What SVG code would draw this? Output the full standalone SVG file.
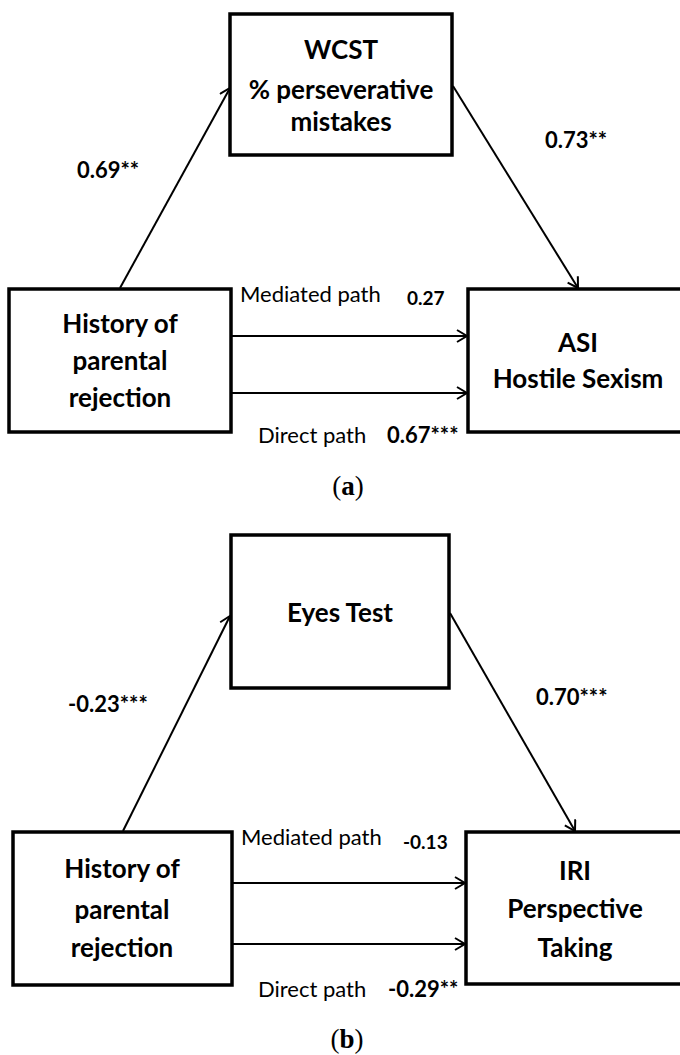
<svg xmlns="http://www.w3.org/2000/svg" width="680" height="1055" viewBox="0 0 680 1055">
<style>
.box{fill:#fff;stroke:#000;stroke-width:3.5}
.ln{fill:none;stroke:#000;stroke-width:2}
.nt{font-family:Lato,"Liberation Sans",sans-serif;font-weight:bold;font-size:26px;fill:#000;text-anchor:middle}
.co{font-family:Lato,"Liberation Sans",sans-serif;font-weight:bold;font-size:22px;fill:#000}
.sm{font-size:19px}
.pl{font-family:Lato,"Liberation Sans",sans-serif;font-size:22px;fill:#000}
.cap{font-family:"Liberation Serif",serif;font-size:27px;fill:#000;text-anchor:middle}
</style>
<defs>
<marker id="arr" markerUnits="userSpaceOnUse" markerWidth="14" markerHeight="16" refX="11" refY="7" orient="auto">
<path d="M1,1 L11,7 L1,13" fill="none" stroke="#000" stroke-width="2"/>
</marker>
</defs>
<rect width="680" height="1055" fill="#fff"/>

<g id="connectors">
<line class="ln" x1="120" y1="288" x2="230" y2="88" marker-end="url(#arr)"/>
<line class="ln" x1="453" y1="86" x2="578" y2="288" marker-end="url(#arr)"/>
<line class="ln" x1="231" y1="336" x2="467" y2="336" marker-end="url(#arr)"/>
<line class="ln" x1="231" y1="393" x2="467" y2="393" marker-end="url(#arr)"/>
<line class="ln" x1="123" y1="831" x2="230" y2="616" marker-end="url(#arr)"/>
<line class="ln" x1="450" y1="613" x2="575" y2="831" marker-end="url(#arr)"/>
<line class="ln" x1="232" y1="883" x2="465" y2="883" marker-end="url(#arr)"/>
<line class="ln" x1="232" y1="944" x2="465" y2="944" marker-end="url(#arr)"/>
</g>

<g id="labels">
<text class="co" x="77" y="178">0.69**</text>
<text class="co" x="545" y="148">0.73**</text>
<text class="pl" x="240" y="302">Mediated path</text>
<text class="co sm" x="407" y="305">0.27</text>
<text class="pl" x="258" y="443">Direct path</text>
<text class="co" x="387" y="443">0.67***</text>
<text class="cap" x="348" y="495">(<tspan font-weight="bold">a</tspan>)</text>
<text class="co" x="68" y="712">-0.23***</text>
<text class="co" x="536" y="705">0.70***</text>
<text class="pl" x="241" y="845">Mediated path</text>
<text class="co sm" x="403" y="849">-0.13</text>
<text class="pl" x="258" y="997">Direct path</text>
<text class="co" x="388" y="997">-0.29**</text>
<text class="cap" x="347" y="1048">(<tspan font-weight="bold">b</tspan>)</text>
</g>

<g id="wcst">
<rect class="box" x="230" y="14" width="222" height="141"/>
<text class="nt" x="341" y="59">WCST</text>
<text class="nt" x="341" y="99">% perseverative</text>
<text class="nt" x="341" y="131">mistakes</text>
</g>
<g id="history-a">
<rect class="box" x="9" y="289" width="222" height="143"/>
<text class="nt" x="120" y="333">History of</text>
<text class="nt" x="120" y="370">parental</text>
<text class="nt" x="120" y="407">rejection</text>
</g>
<g id="asi">
<rect class="box" x="468" y="289" width="220" height="143"/>
<text class="nt" x="578" y="352">ASI</text>
<text class="nt" x="578" y="388">Hostile Sexism</text>
</g>

<g id="eyes">
<rect class="box" x="231" y="535" width="218" height="153"/>
<text class="nt" x="340" y="622">Eyes Test</text>
</g>
<g id="history-b">
<rect class="box" x="13" y="832" width="219" height="153"/>
<text class="nt" x="122" y="878">History of</text>
<text class="nt" x="122" y="919">parental</text>
<text class="nt" x="122" y="957">rejection</text>
</g>
<g id="iri">
<rect class="box" x="466" y="832" width="222" height="152"/>
<text class="nt" x="575" y="880">IRI</text>
<text class="nt" x="575" y="918">Perspective</text>
<text class="nt" x="575" y="957">Taking</text>
</g>
</svg>
